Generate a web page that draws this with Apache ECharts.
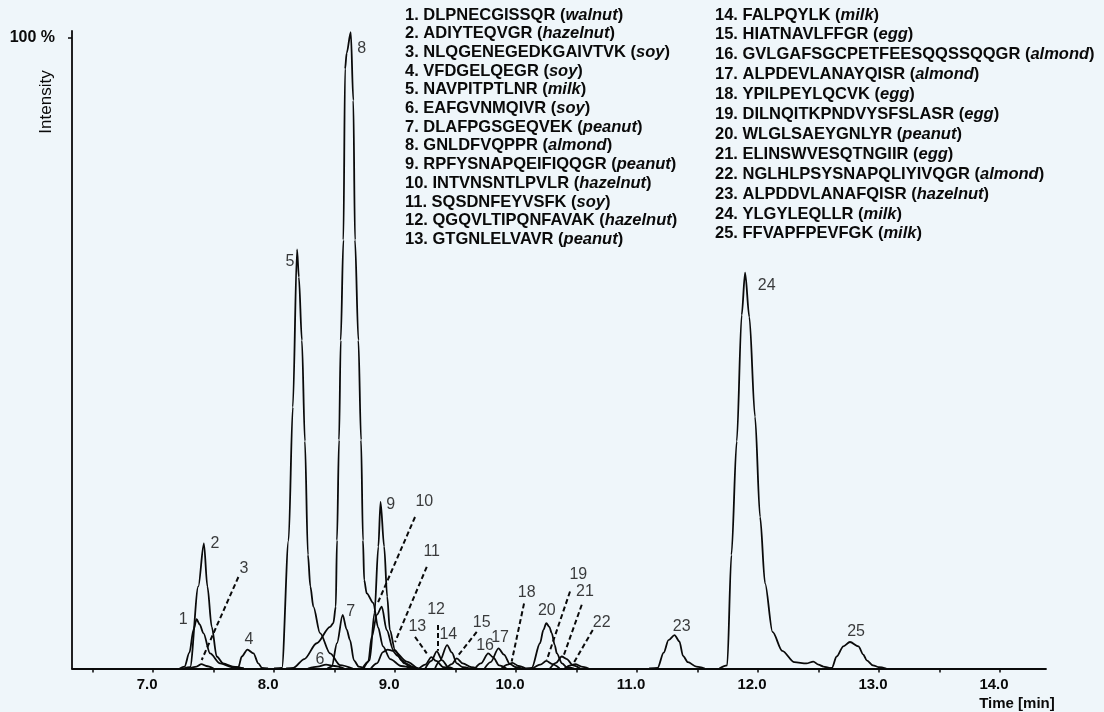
<!DOCTYPE html>
<html>
<head>
<meta charset="utf-8">
<script src="https://cdn.jsdelivr.net/npm/echarts@6/dist/echarts.min.js"></script>
<style>
html,body{margin:0;padding:0;background:#eff6fa;}
#chart{width:1104px;height:712px;}
</style>
</head>
<body>
<div id="chart"></div>
<script>
// ---- peak traces: [time (min), intensity (%)] ----
const p1 = [[7.22,0],[7.26,0.3],[7.30,2.5],[7.335,6.2],[7.36,7.8],[7.385,7.0],[7.416,5.6],[7.471,2.4],[7.554,0.8],[7.66,0.2],[7.75,0]];
const p2 = [[7.25,0],[7.306,0.2],[7.374,13],[7.42,19.8],[7.449,13],[7.485,6.6],[7.526,1.9],[7.58,0.8],[7.66,0.3],[7.75,0]];
const p3 = [[7.30,0],[7.36,0.3],[7.40,0.7],[7.44,0.4],[7.50,0]];
const p4 = [[7.65,0],[7.705,0.2],[7.733,1.9],[7.78,3.0],[7.83,2.4],[7.87,0.8],[7.90,0.1],[7.95,0]];
const p5 = [[8.0,0],[8.065,0.1],[8.12,20.3],[8.155,41.4],[8.19,66.4],[8.205,62],[8.23,52],[8.255,36],[8.28,18],[8.30,13],[8.325,9.8],[8.38,5.6],[8.463,2.4],[8.545,0.55],[8.65,0]];
const p6 = [[8.28,0],[8.36,0.3],[8.43,0.6],[8.50,0.4],[8.58,0]];
const p7 = [[8.44,0],[8.477,0.3],[8.52,4],[8.567,8.5],[8.60,6.2],[8.628,4.5],[8.66,1.3],[8.70,0.3],[8.75,0]];
const p8 = [[8.10,0],[8.16,0.1],[8.25,1.5],[8.353,4.0],[8.463,6.6],[8.49,7.2],[8.51,9.8],[8.52,20.3],[8.537,36.2],[8.551,52],[8.573,67.9],[8.587,95],[8.60,97.5],[8.634,100.8],[8.655,90],[8.669,67.9],[8.697,52],[8.719,36.2],[8.735,20.3],[8.745,14],[8.766,11.9],[8.82,10.4],[8.86,6.5],[8.90,3.5],[8.96,1.5],[9.05,0.4],[9.15,0]];
const p9 = [[8.74,0],[8.79,1.3],[8.83,8.8],[8.862,19.3],[8.88,26.4],[8.91,19.3],[8.935,11.4],[8.957,6.1],[9.0,2.9],[9.053,1.3],[9.12,0.3],[9.2,0]];
const p10 = [[8.73,0],[8.779,1.1],[8.807,5],[8.85,8.5],[8.89,9.8],[8.931,6.1],[8.986,2.9],[9.097,1.1],[9.18,0]];
const p11 = [[8.80,0],[8.85,0.8],[8.90,2.6],[8.94,3.0],[8.98,2.8],[9.02,2.0],[9.08,0.8],[9.16,0]];
const p12 = [[9.25,0],[9.30,1.2],[9.345,2.7],[9.39,1.3],[9.44,0.2],[9.48,0]];
const p13 = [[9.20,0],[9.25,0.6],[9.30,1.8],[9.34,1.2],[9.40,0.2],[9.45,0]];
const p14 = [[9.33,0],[9.37,1.2],[9.43,3.7],[9.47,2.5],[9.51,0.8],[9.56,0.2],[9.62,0]];
const p15 = [[9.42,0],[9.47,0.7],[9.51,1.6],[9.56,0.8],[9.63,0.2],[9.68,0]];
const p16 = [[9.66,0],[9.71,0.8],[9.77,2.4],[9.81,1.8],[9.86,0.5],[9.92,0]];
const p17 = [[9.74,0],[9.79,1.0],[9.855,3.2],[9.90,2.2],[9.95,0.7],[10.0,0.2],[10.05,0]];
const p18 = [[9.88,0],[9.93,0.6],[9.97,0.9],[10.02,0.4],[10.08,0]];
const p19 = [[10.14,0],[10.20,0.6],[10.25,1.2],[10.30,0.7],[10.36,0]];
const p20 = [[10.08,0],[10.13,0.1],[10.198,4],[10.226,6.1],[10.25,7.2],[10.275,6.6],[10.295,5.6],[10.32,3.7],[10.337,2.4],[10.38,0.8],[10.42,0.2],[10.48,0]];
const p21 = [[10.28,0],[10.33,0.9],[10.377,1.9],[10.42,1.5],[10.47,0.5],[10.53,0]];
const p22 = [[10.40,0],[10.45,0.5],[10.49,0.7],[10.54,0.3],[10.60,0]];
const p23 = [[11.10,0],[11.17,0.1],[11.22,2.5],[11.26,4.5],[11.31,5.3],[11.35,4.3],[11.38,2.0],[11.42,1.0],[11.49,0.3],[11.56,0]];
const p24 = [[11.68,0],[11.745,0.5],[11.78,18],[11.824,36],[11.865,56],[11.893,62.7],[11.928,55.7],[11.975,39.9],[12.017,24],[12.058,13.5],[12.12,5.8],[12.20,2.8],[12.30,1.0],[12.40,0.8],[12.457,1.1],[12.50,0.6],[12.54,0.3],[12.6,0]];
const p25 = [[12.55,0],[12.61,0.1],[12.65,1.9],[12.705,3.5],[12.76,4.2],[12.83,3.5],[12.87,2.2],[12.898,1.3],[12.95,0.5],[13.0,0.2],[13.06,0]];
const peaks = [p1,p2,p3,p4,p5,p6,p7,p8,p9,p10,p11,p12,p13,p14,p15,p16,p17,p18,p19,p20,p21,p22,p23,p24,p25];

// ---- peak number labels: [time, intensity, label] ----
const peakLabels = [
  [7.25,7.7,'1'],[7.512,19.8,'2'],[7.752,15.9,'3'],[7.793,4.6,'4'],[8.132,64.4,'5'],
  [8.38,1.35,'6'],[8.634,9.0,'7'],[8.725,98.2,'8'],[8.964,25.9,'9'],[9.242,26.4,'10'],
  [9.303,18.5,'11'],[9.339,9.3,'12'],[9.184,6.6,'13'],[9.44,5.3,'14'],[9.716,7.2,'15'],
  [9.744,3.7,'16'],[9.868,4.9,'17'],[10.088,12.0,'18'],[10.515,14.8,'19'],[10.254,9.15,'20'],
  [10.57,12.2,'21'],[10.708,7.2,'22'],[11.369,6.7,'23'],[12.072,60.7,'24'],[12.81,5.8,'25']
];
// ---- dashed leader lines: [t1,h1,t2,h2] ----
const leaders = [
  [7.705,14.5,7.402,1.35],[9.165,24.0,8.86,10.5],[9.262,16.1,9.0,4.2],[9.355,6.9,9.355,2.8],
  [9.165,5.0,9.262,2.4],[9.675,5.8,9.523,2.1],[10.066,10.3,9.964,1.1],[10.446,12.2,10.254,1.35],
  [10.543,10.1,10.391,1.9],[10.634,6.1,10.474,0.8]
];
// ---- peptide list ----
const peptides = ['DLPNECGISSQR','ADIYTEQVGR','NLQGENEGEDKGAIVTVK','VFDGELQEGR','NAVPITPTLNR','EAFGVNMQIVR',
  'DLAFPGSGEQVEK','GNLDFVQPPR','RPFYSNAPQEIFIQQGR','INTVNSNTLPVLR','SQSDNFEYVSFK','QGQVLTIPQNFAVAK',
  'GTGNLELVAVR','FALPQYLK','HIATNAVLFFGR','GVLGAFSGCPETFEESQQSSQQGR','ALPDEVLANAYQISR','YPILPEYLQCVK',
  'DILNQITKPNDVYSFSLASR','WLGLSAEYGNLYR','ELINSWVESQTNGIIR','NGLHLPSYSNAPQLIYIVQGR','ALPDDVLANAFQISR',
  'YLGYLEQLLR','FFVAPFPEVFGK'];
const sources = ['walnut','hazelnut','soy','soy','milk','soy','peanut','almond','peanut','hazelnut','soy','hazelnut',
  'peanut','milk','egg','almond','almond','egg','egg','peanut','egg','almond','hazelnut','milk','milk'];
const xTicks = [6.5,7,7.5,8,8.5,9,9.5,10,10.5,11,11.5,12,12.5,13,13.5,14];
const xLabels = [7,8,9,10,11,12,13,14];

const INK = '#0a0a0a';
const series = peaks.map((d, i) => ({
  type: 'line', name: 'P' + (i + 1), data: d, showSymbol: false, symbol: 'none',
  smooth: 0.3, smoothMonotone: 'x', silent: true,
  lineStyle: { color: INK, width: 1.8 }, z: 3
}));
series.push({
  type: 'scatter', data: peakLabels, symbolSize: 0, silent: true, z: 5,
  label: { show: true, position: 'inside', formatter: p => p.value[2],
    color: INK, fontFamily: 'Liberation Sans, Arial, sans-serif', fontSize: 16 },
  markLine: { silent: true, symbol: ['none','none'], label: { show: false },
    lineStyle: { color: INK, width: 2, type: [5,3] },
    data: leaders.map(l => [{ coord: [l[0], l[1]] }, { coord: [l[2], l[3]] }]) }
});

const graphics = [];
const FONT = 'bold 16.5px "Liberation Sans", Arial, sans-serif';
const rich = { i: { fontFamily: 'Liberation Sans, Arial, sans-serif', fontSize: 16.5, fontWeight: 'bold', fontStyle: 'italic', fill: INK } };
peptides.forEach((p, i) => {
  const col2 = i >= 13;
  const x = col2 ? 715 : 405;
  const y = col2 ? 15 + (i - 13) * 19.9 : 15 + i * 18.7;
  graphics.push({ type: 'text', x: x, y: y, silent: true,
    style: { text: (i + 1) + '. ' + p + ' ({i|' + sources[i] + '})', font: FONT, fill: INK,
      verticalAlign: 'middle', align: 'left', rich: rich } });
});
graphics.push({ type: 'text', x: 46, y: 102, rotation: Math.PI / 2, silent: true,
  style: { text: 'Intensity', font: '17px "Liberation Sans", Arial, sans-serif', fill: INK, align: 'center', verticalAlign: 'middle' } });
graphics.push({ type: 'text', x: 1017, y: 704, silent: true,
  style: { text: 'Time [min]', font: 'bold 15px "Liberation Sans", Arial, sans-serif', fill: INK, align: 'center', verticalAlign: 'middle' } });

const chart = echarts.init(document.getElementById('chart'));
chart.setOption({
  animation: false,
  backgroundColor: '#eff6fa',
  grid: { left: 72, right: 58, top: 31, bottom: 43.5 },
  xAxis: {
    type: 'value', min: 6.33, max: 14.38,
    splitLine: { show: false },
    axisLine: { show: true, lineStyle: { color: INK, width: 1.8 } },
    axisTick: { show: true, customValues: xTicks, length: 4, lineStyle: { color: INK, width: 1.5 } },
    axisLabel: { customValues: xLabels, formatter: v => Number(v).toFixed(1), color: INK,
      fontFamily: 'Liberation Sans, Arial, sans-serif', fontWeight: 'bold', fontSize: 15, margin: 9, padding: [0, 12, 0, 0] }
  },
  yAxis: {
    type: 'value', min: 0, max: 101,
    splitLine: { show: false },
    axisLine: { show: true, lineStyle: { color: INK, width: 1.8 } },
    axisTick: { show: true, customValues: [100], length: 4, lineStyle: { color: INK, width: 1.5 } },
    axisLabel: { customValues: [100], formatter: () => '100 %', color: INK,
      fontFamily: 'Liberation Sans, Arial, sans-serif', fontWeight: 'bold', fontSize: 16, margin: 17 }
  },
  graphic: graphics,
  series: series
});
</script>
</body>
</html>
